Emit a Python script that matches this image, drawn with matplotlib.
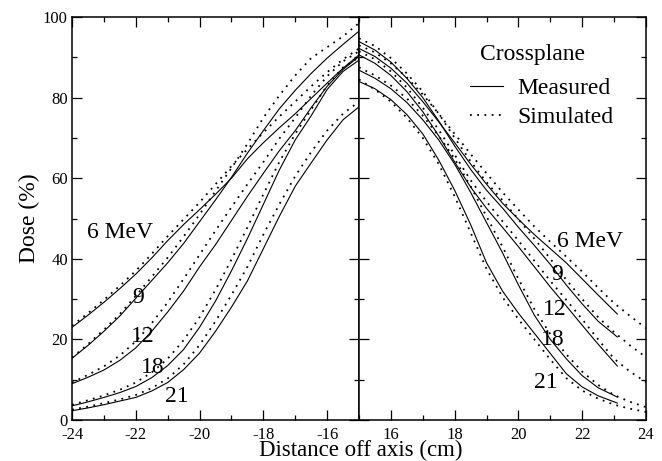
import matplotlib
matplotlib.use('Agg')
import matplotlib.pyplot as plt
from matplotlib.ticker import MultipleLocator

plt.rcParams['font.family'] = 'serif'
plt.rcParams['font.serif'] = ['Liberation Serif', 'DejaVu Serif']
plt.rcParams['axes.unicode_minus'] = False

# left side of the profile (negative off-axis distance)
x_left = [-24, -23.5, -23, -22.5, -22, -21.5, -21, -20.5, -20, -19.5,
          -19, -18.5, -18, -17.5, -17, -16.5, -16, -15.5, -15]
meas_left = {
    '6':  [23.0, 26.0, 29.2, 32.6, 36.2, 40.2, 44.5, 48.5, 52.2, 56.0,
           60.0, 64.8, 68.8, 72.5, 76.0, 79.8, 83.6, 87.3, 90.6],
    '9':  [15.3, 18.5, 22.0, 25.8, 30.2, 34.6, 39.0, 43.8, 49.2, 54.6,
           60.2, 66.2, 71.8, 77.2, 81.8, 86.0, 89.8, 93.2, 96.5],
    '12': [9.0, 10.6, 12.4, 14.8, 17.9, 22.0, 26.8, 32.0, 38.0, 43.5,
           49.5, 55.5, 61.2, 66.8, 71.8, 77.5, 82.8, 87.0, 90.2],
    '18': [3.5, 4.5, 5.6, 6.8, 8.3, 10.5, 13.5, 17.5, 23.0, 29.5,
           37.0, 45.0, 53.5, 62.0, 69.5, 75.5, 82.0, 86.5, 89.3],
    '21': [2.3, 3.0, 3.8, 4.7, 5.6, 7.2, 9.3, 12.5, 16.6, 22.0,
           28.0, 34.5, 42.5, 50.5, 58.0, 63.8, 69.5, 74.5, 77.7],
}
sim_left = {
    '6':  [23.4, 26.5, 29.8, 33.3, 37.0, 41.2, 45.6, 49.8, 54.0, 58.5,
           63.0, 67.2, 71.3, 75.3, 79.0, 82.8, 86.3, 89.5, 92.2],
    '9':  [15.5, 18.8, 22.4, 26.3, 30.8, 35.5, 40.3, 45.5, 51.0, 56.8,
           62.5, 68.5, 75.0, 80.5, 85.5, 89.8, 92.5, 95.2, 98.5],
    '12': [9.3, 11.2, 13.3, 16.0, 19.5, 24.0, 29.2, 35.0, 41.0, 47.0,
           52.8, 58.5, 64.0, 69.8, 75.0, 80.5, 85.3, 89.0, 91.5],
    '18': [3.8, 4.9, 6.1, 7.5, 9.3, 11.8, 15.2, 19.8, 25.5, 32.3,
           39.8, 47.8, 56.0, 64.0, 71.0, 77.0, 83.0, 87.5, 90.0],
    '21': [2.6, 3.3, 4.2, 5.1, 6.2, 7.9, 10.3, 13.8, 18.6, 24.5,
           31.0, 38.0, 46.0, 53.5, 60.5, 66.5, 71.8, 76.0, 79.0],
}

# right side of the profile
x_right_meas = [15, 15.5, 16, 16.5, 17, 17.5, 18, 18.5, 19, 19.5,
                20, 20.5, 21, 21.5, 22, 22.5, 23.1]
meas_right = {
    '6':  [92.2, 90.2, 87.3, 83.6, 79.0, 74.0, 68.8, 63.5, 58.5, 53.8,
           49.8, 46.0, 42.5, 39.0, 35.0, 31.0, 26.3],
    '9':  [93.9, 91.8, 88.8, 84.8, 80.0, 74.2, 68.0, 62.2, 57.0, 52.6,
           47.8, 43.3, 38.6, 33.5, 28.8, 24.5, 20.6],
    '12': [90.6, 88.5, 85.5, 81.5, 76.5, 70.5, 64.0, 57.8, 52.5, 47.8,
           43.0, 38.0, 33.0, 28.3, 23.5, 18.8, 13.4],
    '18': [86.8, 84.8, 82.2, 78.8, 74.5, 69.5, 63.5, 56.5, 49.0, 41.5,
           33.5, 26.0, 20.0, 15.2, 11.0, 8.0, 5.7],
    '21': [84.0, 82.2, 79.5, 75.8, 71.0, 64.5, 57.0, 48.5, 39.0, 32.0,
           26.5, 21.5, 16.5, 11.5, 8.2, 6.0, 4.2],
}
x_right_sim = [15, 15.5, 16, 16.5, 17, 17.5, 18, 18.5, 19, 19.5,
               20, 20.5, 21, 21.5, 22, 22.5, 23, 23.5, 24]
sim_right = {
    '6':  [93.0, 91.2, 88.5, 85.0, 80.8, 76.0, 71.0, 66.0, 61.2, 56.5,
           52.2, 48.0, 44.2, 40.5, 36.8, 32.8, 29.0, 25.8, 22.8],
    '9':  [94.7, 92.8, 89.8, 86.0, 81.5, 76.0, 70.0, 64.2, 59.0, 54.5,
           49.8, 45.0, 40.0, 34.8, 30.0, 25.5, 21.8, 18.5, 15.6],
    '12': [91.5, 89.5, 86.5, 82.5, 77.5, 72.0, 65.8, 59.5, 54.2, 49.3,
           44.5, 39.5, 34.5, 29.8, 25.0, 20.0, 15.2, 12.0, 9.4],
    '18': [87.5, 85.5, 83.0, 79.8, 75.5, 70.5, 64.8, 58.0, 50.5, 43.0,
           35.0, 27.5, 21.3, 16.3, 12.0, 8.7, 6.2, 4.5, 3.2],
    '21': [84.5, 82.0, 79.0, 75.0, 70.0, 63.5, 55.5, 46.5, 37.5, 30.5,
           25.0, 20.0, 15.0, 10.4, 7.3, 5.3, 3.8, 2.8, 2.0],
}

# energy labels (text, x, y)
labels_left = [('6 MeV', -22.5, 45.1), ('9', -21.94, 29.0), ('12', -21.78, 19.4),
               ('18', -21.47, 11.7), ('21', -20.71, 4.55)]
labels_right = [('6 MeV', 22.24, 43.0), ('9', 21.22, 34.7), ('12', 21.13, 26.1),
                ('18', 21.07, 18.6), ('21', 20.85, 7.9)]

dot = (0, (1, 3))
fig = plt.figure(figsize=(6.62, 4.61), dpi=100)
ax1 = fig.add_axes([72/662, 1-420/461, 287/662, 403/461])
ax2 = fig.add_axes([359/662, 1-420/461, 287/662, 403/461])

for e in meas_left:
    ax1.plot(x_left, meas_left[e], color='black', lw=0.8)
    ax1.plot(x_left, sim_left[e], color='black', lw=1.3, linestyle=dot)
for e in meas_right:
    ax2.plot(x_right_meas, meas_right[e], color='black', lw=0.8,
             label='Measured' if e == '6' else None)
    ax2.plot(x_right_sim, sim_right[e], color='black', lw=1.3, linestyle=dot,
             label='Simulated' if e == '6' else None)

for t, x, y in labels_left:
    ax1.text(x, y, t, fontsize=17, ha='center', va='baseline')
for t, x, y in labels_right:
    ax2.text(x, y, t, fontsize=17, ha='center', va='baseline')

ax1.set_xlim(-24, -15)
ax2.set_xlim(15, 24)
for ax in (ax1, ax2):
    ax.set_ylim(0, 100)
    ax.yaxis.set_major_locator(MultipleLocator(20))
    ax.yaxis.set_minor_locator(MultipleLocator(10))
    ax.xaxis.set_major_locator(MultipleLocator(2))
    ax.xaxis.set_minor_locator(MultipleLocator(1))
    ax.tick_params(which='both', direction='in', top=True, right=True,
                   labelsize=12, width=0.9)
    ax.tick_params(which='major', length=7)
    ax.tick_params(which='minor', length=3.6)
    ax.tick_params(axis='x', pad=5)
    ax.tick_params(axis='y', pad=3)
    for s in ax.spines.values():
        s.set_linewidth(1.1)
ax2.tick_params(labelleft=False)
ax1.set_xticks([-24, -22, -20, -18, -16])
ax2.set_xticks([16, 18, 20, 22, 24])

ax1.set_ylabel('Dose (%)', fontsize=17, labelpad=2)
fig.text(361/662, 1-450/461, 'Distance off axis (cm)', fontsize=16.5,
         ha='center', va='center')

# legend: title as plain text, entries below
ax2.text(18.78, 89.4, 'Crossplane', fontsize=17, ha='left', va='baseline')
leg = ax2.legend(loc='upper left', frameon=False, fontsize=17,
                 handlelength=1.4, handletextpad=0.6, labelspacing=0.3,
                 borderpad=0, bbox_to_anchor=(0.345, 0.878))

fig.savefig('out.png', dpi=100)
